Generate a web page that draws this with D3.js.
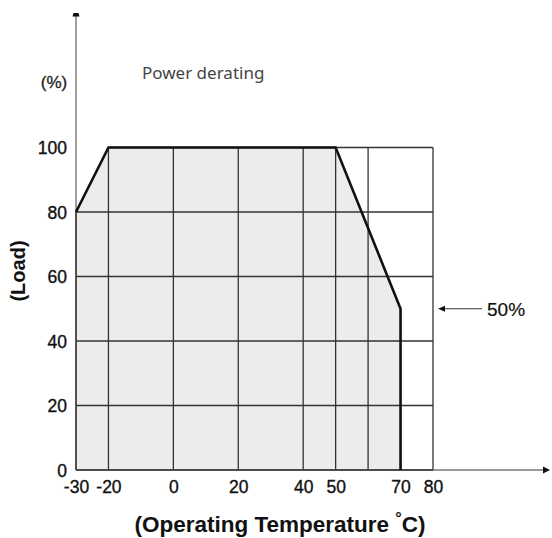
<!DOCTYPE html>
<html>
<head>
<meta charset="utf-8">
<script src="https://cdn.jsdelivr.net/npm/d3@7"></script>
<style>
  html, body { margin: 0; padding: 0; background: #fff; }
  svg { display: block; }
  text { font-family: "Liberation Sans", Arial, sans-serif; }
</style>
</head>
<body>
<svg id="chart" width="552" height="538"></svg>
<script>
// ---- data ----
const curveTemps = [-30, -20, 50, 70, 70];
const curveLoads = [80, 100, 100, 50, 0];
const xTickValues = [-30, -20, 0, 20, 40, 50, 70, 80];
const yTickValues = [0, 20, 40, 60, 80, 100];
const xGridValues = [-20, 0, 20, 40, 50, 60, 80];
const yGridValues = [20, 40, 60, 80, 100];
const chartTitle = "Power derating";
const yUnit = "(%)";
const yTitle = "(Load)";
const xTitleMain = "(Operating Temperature ";
const xTitleDeg = "°";
const xTitleEnd = "C)";
const markLoad = 50;
const markLabel = "50%";

// ---- scales ----
const svg = d3.select("#chart");
const x = d3.scaleLinear().domain([-30, 80]).range([76, 433]);
const y = d3.scaleLinear().domain([0, 100]).range([470, 147.5]);

const pts = curveTemps.map((t, i) => [t, curveLoads[i]]);

// fill under curve
const area = d3.area()
  .x(d => x(d[0]))
  .y0(y(0))
  .y1(d => y(d[1]));
svg.append("path")
  .datum(pts)
  .attr("d", area)
  .attr("fill", "#ececec");

// grid
const grid = svg.append("g").attr("stroke", "#333").attr("stroke-width", 1.3);
grid.selectAll("line.v").data(xGridValues).join("line")
  .attr("x1", d => x(d)).attr("x2", d => x(d))
  .attr("y1", y(0)).attr("y2", y(100));
grid.selectAll("line.h").data(yGridValues).join("line")
  .attr("x1", d => d === 100 ? x(-20) : x(-30)).attr("x2", x(80))
  .attr("y1", d => y(d)).attr("y2", d => y(d));

// axes lines
svg.append("line")
  .attr("x1", x(-30)).attr("x2", 546)
  .attr("y1", y(0)).attr("y2", y(0))
  .attr("stroke", "#777").attr("stroke-width", 1.3);
svg.append("line")
  .attr("x1", x(-30)).attr("x2", x(80))
  .attr("y1", y(0)).attr("y2", y(0))
  .attr("stroke", "#333").attr("stroke-width", 1.4);
svg.append("path")
  .attr("d", `M543,466.5L550,470L543,473.5Z`)
  .attr("fill", "#111");
svg.append("line")
  .attr("x1", x(-30)).attr("x2", x(-30))
  .attr("y1", y(0)).attr("y2", 15)
  .attr("stroke", "#777").attr("stroke-width", 1.4);
svg.append("line")
  .attr("x1", x(-30)).attr("x2", x(-30))
  .attr("y1", y(0)).attr("y2", y(80))
  .attr("stroke", "#333").attr("stroke-width", 1.4);
svg.append("path")
  .attr("d", `M72.5,16.5L79.5,16.5L78.5,13L73.5,13Z`)
  .attr("fill", "#111");

// curve
const line = d3.line().x(d => x(d[0])).y(d => y(d[1]));
svg.append("path")
  .datum(pts)
  .attr("d", line)
  .attr("fill", "none")
  .attr("stroke", "#111")
  .attr("stroke-width", 2.6)
  .attr("stroke-linejoin", "miter");

// x axis tick labels
const xAxis = d3.axisBottom(x).tickValues(xTickValues).tickSize(0).tickPadding(0)
  .tickFormat(d => String(d));
const gx = svg.append("g").attr("transform", `translate(0,${y(0)})`).call(xAxis);
gx.select(".domain").remove();
gx.selectAll("text")
  .attr("y", 23)
  .attr("dy", 0)
  .attr("fill", "#111")
  .attr("stroke", "#111")
  .attr("stroke-width", 0.35)
  .style("font-size", "17.5px")
  .style("font-family", '"Liberation Sans", Arial, sans-serif');

// y axis tick labels
const yAxis = d3.axisLeft(y).tickValues(yTickValues).tickSize(0).tickPadding(0)
  .tickFormat(d => String(d));
const gy = svg.append("g").attr("transform", `translate(67,0)`).call(yAxis);
gy.select(".domain").remove();
gy.selectAll("text")
  .attr("x", 0)
  .attr("dy", "0.36em")
  .attr("fill", "#111")
  .attr("stroke", "#111")
  .attr("stroke-width", 0.35)
  .style("font-size", "17.5px")
  .style("font-family", '"Liberation Sans", Arial, sans-serif');

// texts
svg.append("text")
  .attr("x", 142).attr("y", 79)
  .attr("fill", "#444")
  .style("font-family", '"Noto Sans", "Open Sans", sans-serif')
  .style("font-size", "17px")
  .text(chartTitle);

svg.append("text")
  .attr("x", 54).attr("y", 88)
  .attr("text-anchor", "middle")
  .attr("fill", "#222")
  .attr("stroke", "#222")
  .attr("stroke-width", 0.3)
  .style("font-size", "17px")
  .text(yUnit);

svg.append("text")
  .attr("transform", `translate(25,271) rotate(-90)`)
  .attr("text-anchor", "middle")
  .attr("fill", "#111")
  .style("font-size", "20px")
  .style("font-weight", "bold")
  .text(yTitle);

const xt = svg.append("text")
  .attr("x", 280).attr("y", 532)
  .attr("text-anchor", "middle")
  .attr("fill", "#111")
  .style("font-size", "22.5px")
  .style("font-weight", "bold");
xt.append("tspan").text(xTitleMain);
xt.append("tspan").attr("dy", -8).style("font-size", "16px").text(xTitleDeg);
xt.append("tspan").attr("dy", 8).text(xTitleEnd);

// 50% marker
const my = y(markLoad);
svg.append("line")
  .attr("x1", 442).attr("x2", 482)
  .attr("y1", my).attr("y2", my)
  .attr("stroke", "#333").attr("stroke-width", 1.2);
svg.append("path")
  .attr("d", `M438,${my}L445,${my - 3}L445,${my + 3}Z`)
  .attr("fill", "#111");
svg.append("text")
  .attr("x", 487).attr("y", my + 7)
  .attr("fill", "#111")
  .attr("stroke", "#111")
  .attr("stroke-width", 0.2)
  .style("font-size", "19px")
  .text(markLabel);
</script>
</body>
</html>
